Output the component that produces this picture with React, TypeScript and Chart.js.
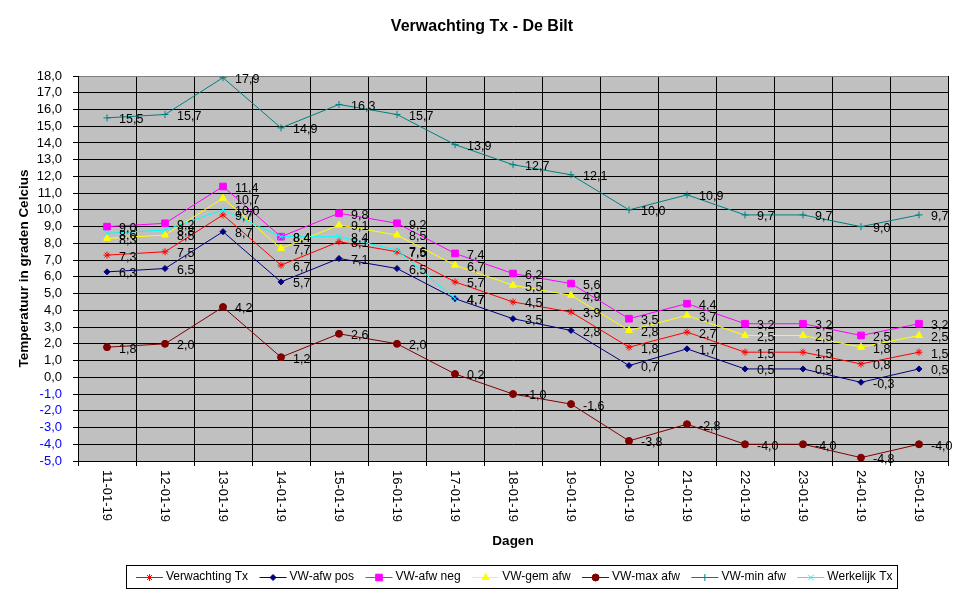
import React, { useEffect, useRef } from "react";
import { Chart, registerables } from "chart.js";
import { drawPoint } from "chart.js/helpers";

Chart.register(...registerables);

const FONT = '"Liberation Sans", Arial, sans-serif';

const DAYS = [
  "11-01-19", "12-01-19", "13-01-19", "14-01-19", "15-01-19",
  "16-01-19", "17-01-19", "18-01-19", "19-01-19", "20-01-19",
  "21-01-19", "22-01-19", "23-01-19", "24-01-19", "25-01-19",
];

const VERWACHTING_TX = [7.3, 7.5, 9.7, 6.7, 8.1, 7.5, 5.7, 4.5, 3.9, 1.8, 2.7, 1.5, 1.5, 0.8, 1.5];
const VW_AFW_POS = [6.3, 6.5, 8.7, 5.7, 7.1, 6.5, 4.7, 3.5, 2.8, 0.7, 1.7, 0.5, 0.5, -0.3, 0.5];
const VW_AFW_NEG = [9.0, 9.2, 11.4, 8.4, 9.8, 9.2, 7.4, 6.2, 5.6, 3.5, 4.4, 3.2, 3.2, 2.5, 3.2];
const VW_GEM_AFW = [8.3, 8.5, 10.7, 7.7, 9.1, 8.5, 6.7, 5.5, 4.9, 2.8, 3.7, 2.5, 2.5, 1.8, 2.5];
const VW_MAX_AFW = [1.8, 2.0, 4.2, 1.2, 2.6, 2.0, 0.2, -1.0, -1.6, -3.8, -2.8, -4.0, -4.0, -4.8, -4.0];
const VW_MIN_AFW = [15.5, 15.7, 17.9, 14.9, 16.3, 15.7, 13.9, 12.7, 12.1, 10.0, 10.9, 9.7, 9.7, 9.0, 9.7];
const WERKELIJK_TX = [8.6, 8.8, 10.0, 8.4, 8.4, 7.6, 4.7, null, null, null, null, null, null, null, null];

const Y_MIN = -5;
const Y_MAX = 18;

// series styling (Excel-like colours and markers)
const SERIES = [
  { label: "Verwachting Tx", data: VERWACHTING_TX, color: "#FF0000", style: "star", radius: 3.5 },
  { label: "VW-afw pos", data: VW_AFW_POS, color: "#000080", style: "rectRot", radius: 3 },
  { label: "VW-afw neg", data: VW_AFW_NEG, color: "#FF00FF", style: "rect", radius: 4.7 },
  { label: "VW-gem afw", data: VW_GEM_AFW, color: "#FFFF00", style: "triangle", radius: 4 },
  { label: "VW-max afw", data: VW_MAX_AFW, color: "#800000", style: "circle", radius: 3.5 },
  { label: "VW-min afw", data: VW_MIN_AFW, color: "#008080", style: "cross", radius: 3.5 },
  { label: "Werkelijk Tx", data: WERKELIJK_TX, color: "#00FFFF", style: "crossRot", radius: 4 },
];

const fmt = (v: number) => v.toFixed(1).replace(".", ",");

const plotBackground = {
  id: "plotBackground",
  beforeDraw(chart: any) {
    const { ctx, chartArea } = chart;
    ctx.save();
    ctx.fillStyle = "#FFFFFF";
    ctx.fillRect(0, 0, chart.width, chart.height);
    ctx.fillStyle = "#C0C0C0";
    ctx.fillRect(chartArea.left, chartArea.top, chartArea.right - chartArea.left, chartArea.bottom - chartArea.top);
    ctx.restore();
  },
};

// vertical date labels, reading top to bottom
const dayLabels = {
  id: "dayLabels",
  afterDraw(chart: any) {
    const { ctx } = chart;
    const xs = chart.scales.x;
    ctx.save();
    ctx.font = `13px ${FONT}`;
    ctx.fillStyle = "#000";
    ctx.textAlign = "left";
    ctx.textBaseline = "middle";
    DAYS.forEach((d, i) => {
      const x = xs.getPixelForValue(i);
      ctx.save();
      ctx.translate(x, xs.top + 9);
      ctx.rotate(Math.PI / 2);
      ctx.fillText(d, 0, 0);
      ctx.restore();
    });
    ctx.restore();
  },
};

const valueLabels = {
  id: "valueLabels",
  afterDatasetsDraw(chart: any) {
    const { ctx } = chart;
    ctx.save();
    ctx.font = `12.5px ${FONT}`;
    ctx.fillStyle = "#000";
    ctx.textAlign = "left";
    ctx.textBaseline = "middle";
    chart.data.datasets.forEach((ds: any, i: number) => {
      const meta = chart.getDatasetMeta(i);
      meta.data.forEach((pt: any, j: number) => {
        const v = ds.data[j];
        if (v === null || v === undefined) return;
        ctx.fillText(fmt(v), pt.x + 12, pt.y + 2);
      });
    });
    ctx.restore();
  },
};

const boxLegend = {
  id: "boxLegend",
  afterDraw(chart: any) {
    const { ctx } = chart;
    const top = 565;
    const bottom = 588;
    const midY = (top + bottom) / 2;
    ctx.save();
    ctx.font = `12px ${FONT}`;
    ctx.fillStyle = "#FFFFFF";
    ctx.fillRect(126, top, 897 - 126, bottom - top);
    ctx.strokeStyle = "#000";
    ctx.lineWidth = 1;
    ctx.strokeRect(126.5, top + 0.5, 897 - 126, bottom - top);

    let x = 136;
    SERIES.forEach((s) => {
      ctx.strokeStyle = s.color;
      ctx.fillStyle = s.color;
      ctx.lineWidth = 1;
      ctx.beginPath();
      ctx.moveTo(x, Math.round(midY) + 0.5);
      ctx.lineTo(x + 27, Math.round(midY) + 0.5);
      ctx.stroke();
      drawPoint(ctx, { pointStyle: s.style, radius: s.radius, rotation: 0, borderWidth: 1 } as any, x + 13.5, Math.round(midY) + 0.5);
      ctx.fillStyle = "#000";
      ctx.textAlign = "left";
      ctx.textBaseline = "middle";
      ctx.fillText(s.label, x + 30, midY);
      x += 30 + ctx.measureText(s.label).width + 11.5;
    });
    ctx.restore();
  },
};

export default function App() {
  const canvasRef = useRef<HTMLCanvasElement>(null);

  useEffect(() => {
    document.body.style.margin = "0";
    if (!canvasRef.current) return;
    const ctx = canvasRef.current.getContext("2d");
    if (!ctx) return;

    const chart = new Chart(ctx, {
      type: "line",
      data: {
        labels: DAYS,
        datasets: SERIES.map((s, i) => ({
          label: s.label,
          data: s.data,
          borderColor: s.color,
          backgroundColor: s.color,
          borderWidth: 1,
          pointStyle: s.style as any,
          pointRadius: s.radius,
          pointHoverRadius: s.radius,
          pointBorderWidth: 1,
          pointBorderColor: s.color,
          pointBackgroundColor: s.color,
          tension: 0,
          fill: false,
          spanGaps: false,
          order: SERIES.length - i,
        })),
      },
      options: {
        responsive: true,
        maintainAspectRatio: false,
        animation: false,
        layout: { padding: { left: 16, right: 26, top: 0, bottom: 48 } },
        scales: {
          x: {
            offset: true,
            grid: { offset: true, color: "#000", tickLength: 5, tickColor: "#000" },
            border: { color: "#000" },
            ticks: { display: false },
            title: {
              display: true,
              text: "Dagen",
              color: "#000",
              padding: 0,
              font: { family: FONT, size: 13.5, weight: "bold" },
            },
            afterFit: (scale: any) => {
              scale.height = 88;
            },
          },
          y: {
            min: Y_MIN,
            max: Y_MAX,
            grid: {
              color: (c: any) => (c.tick && c.tick.value === Y_MAX ? "#808080" : "#000"),
              tickLength: 5,
              tickColor: "#000",
            },
            border: { color: "#000" },
            ticks: {
              stepSize: 1,
              maxTicksLimit: 40,
              autoSkip: false,
              padding: 11,
              font: { family: FONT, size: 13 },
              color: (c: any) => (c.tick && c.tick.value < 0 ? "#0000FF" : "#000"),
              callback: (v: any) => fmt(Number(v)),
            },
            title: {
              display: true,
              text: "Temperatuur in graden Celcius",
              color: "#000",
              padding: 0,
              font: { family: FONT, size: 13.5, weight: "bold" },
            },
            afterFit: (scale: any) => {
              scale.width = 62;
            },
          },
        },
        plugins: {
          legend: { display: false },
          tooltip: { enabled: false },
          title: {
            display: true,
            text: "Verwachting Tx - De Bilt",
            color: "#000",
            font: { family: FONT, size: 16, weight: "bold" },
            padding: { top: 17, bottom: 39.8 },
          },
        },
      },
      plugins: [plotBackground, dayLabels, valueLabels, boxLegend],
    });

    return () => {
      chart.destroy();
    };
  }, []);

  return (
    <div style={{ width: 974, height: 597, position: "relative", background: "#fff" }}>
      <canvas ref={canvasRef}></canvas>
    </div>
  );
}
